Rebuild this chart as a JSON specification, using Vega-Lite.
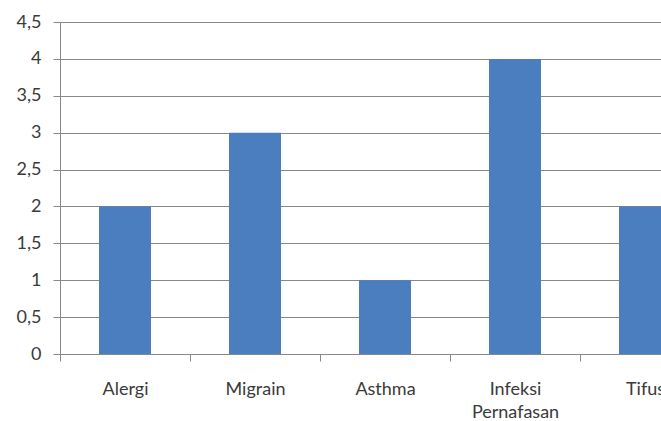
{
  "$schema": "https://vega.github.io/schema/vega-lite/v6.json",
  "autosize": "none",
  "width": 601,
  "height": 332,
  "padding": {"left": 60, "top": 22, "right": 0, "bottom": 67},
  "background": "white",
  "config": {"view": {"stroke": null}},
  "data": {"values": [
    {"penyakit": "Alergi", "jumlah": 2},
    {"penyakit": "Migrain", "jumlah": 3},
    {"penyakit": "Asthma", "jumlah": 1},
    {"penyakit": "Infeksi Pernafasan", "jumlah": 4},
    {"penyakit": "Tifus", "jumlah": 2}
  ]},
  "mark": {"type": "bar", "color": "#4A7EBF", "width": {"band": 0.4}},
  "encoding": {
    "x": {
      "field": "penyakit", "type": "nominal", "sort": null,
      "scale": {"range": [0, 650], "paddingInner": 0, "paddingOuter": 0},
      "axis": {
        "title": null, "labelAngle": 0, "tickBand": "extent",
        "domainColor": "#888888", "tickColor": "#888888", "tickSize": 7,
        "labelFont": "Lato", "labelFontSize": 18, "labelColor": "#3A3A3A",
        "labelPadding": 19, "labelLineHeight": 23,
        "labelExpr": "datum.value == 'Infeksi Pernafasan' ? ['Infeksi', 'Pernafasan'] : datum.value"
      }
    },
    "y": {
      "field": "jumlah", "type": "quantitative",
      "scale": {"domain": [0, 4.5], "nice": false},
      "axis": {
        "title": null, "values": [0, 0.5, 1, 1.5, 2, 2.5, 3, 3.5, 4, 4.5],
        "grid": true, "gridColor": "#888888", "gridOpacity": 1,
        "domain": true, "domainColor": "#888888", "tickColor": "#888888", "tickSize": 7,
        "labelFont": "Lato", "labelFontSize": 18, "labelColor": "#3A3A3A", "labelPadding": 12,
        "labelExpr": "replace(format(datum.value, '.1~f'), '.', ',')"
      }
    }
  }
}
